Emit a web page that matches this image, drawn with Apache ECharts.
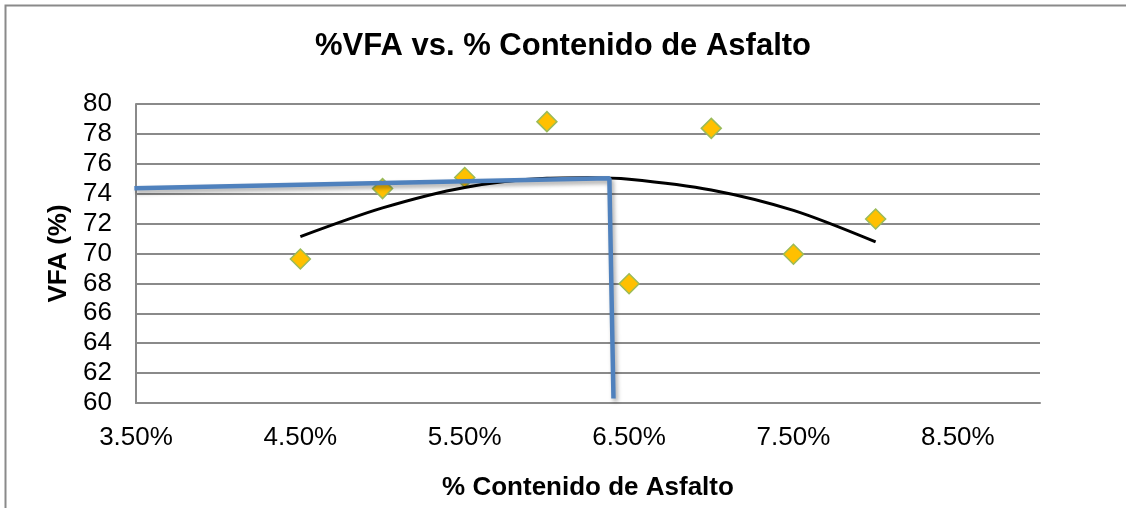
<!DOCTYPE html>
<html>
<head>
<meta charset="utf-8">
<title>%VFA vs. % Contenido de Asfalto</title>
<script src="https://cdn.jsdelivr.net/npm/echarts@6/dist/echarts.min.js"></script>
<style>
	html, body { margin: 0; padding: 0; background: #fff; }
	#vfaChart { width: 1126px; height: 508px; }
</style>
</head>
<body>
<div id="vfaChart"></div>
<script>

// datos
var asfaltoPct = [4.5, 5.0, 5.5, 6.0, 6.5, 7.0, 7.5, 8.0];
var vfaValores = [69.63, 74.34, 75.08, 78.82, 67.98, 78.37, 69.95, 72.31];
// linea de tendencia (polinomica)
var tendenciaX = [4.5, 5.0, 5.5, 6.0, 6.25, 6.5, 7.0, 7.5, 8.0];
var tendenciaVfa = [71.13, 73.05, 74.42, 75.03, 75.07, 74.97, 74.25, 72.88, 70.77];
// lineas azules dibujadas a mano (optimo)
var guiaX = [3.49, 6.38, 6.405];
var guiaY = [74.36, 75.03, 60.3];

var fuente = "'Liberation Sans', Arial, sans-serif";

function pares(xs, ys) {
	var out = [];
	for (var i = 0; i < xs.length; i++) {
		out.push([xs[i], ys[i]]);
	}
	return out;
}

function myChart() {
	var chart = echarts.init(document.getElementById('vfaChart'));

	var option = {
		animation: false,
		backgroundColor: '#fff',
		textStyle: { fontFamily: fuente },
		title: {
			text: '%VFA vs. % Contenido de Asfalto',
			left: 'center',
			top: 26,
			textStyle: { fontSize: 31, fontWeight: 'bold', color: '#000', fontFamily: fuente }
		},
		// borde del area del grafico (solo se ve arriba y a la izquierda)
		graphic: [{
			type: 'rect',
			shape: { x: 5.5, y: 5.5, width: 1300, height: 700 },
			style: { fill: 'none', stroke: '#8a8a8a', lineWidth: 2 },
			silent: true
		}],
		grid: { left: 136, right: 86, top: 104, bottom: 105 },
		xAxis: {
			type: 'value',
			min: 3.5,
			max: 9.0,
			interval: 1,
			name: '% Contenido de Asfalto',
			nameLocation: 'middle',
			nameGap: 72,
			nameTextStyle: { fontSize: 26, fontWeight: 'bold', color: '#000', fontFamily: fuente },
			axisLine: { show: true, lineStyle: { color: '#8a8a8a', width: 2 } },
			axisTick: { show: false },
			splitLine: { show: false },
			axisLabel: {
				margin: 22,
				fontSize: 26,
				color: '#000',
				fontFamily: fuente,
				showMaxLabel: false,
				formatter: function(v) { return v.toFixed(2) + '%'; }
			}
		},
		yAxis: {
			type: 'value',
			min: 60,
			max: 80,
			interval: 2,
			name: 'VFA (%)',
			nameLocation: 'middle',
			nameGap: 62,
			nameTextStyle: { fontSize: 26, fontWeight: 'bold', color: '#000', fontFamily: fuente },
			axisLine: { show: true, lineStyle: { color: '#8a8a8a', width: 2 } },
			axisTick: { show: false },
			splitLine: { show: true, lineStyle: { color: '#8a8a8a', width: 2 } },
			axisLabel: { margin: 24, fontSize: 26, color: '#000', fontFamily: fuente }
		},
		series: [
			{
				name: 'VFA',
				type: 'scatter',
				symbol: 'diamond',
				symbolSize: [20, 20],
				itemStyle: { color: '#FFC000', borderColor: '#9BBB59', borderWidth: 1.5, opacity: 1 },
				data: pares(asfaltoPct, vfaValores),
				z: 2
			},
			{
				name: 'Tendencia',
				type: 'line',
				smooth: 0.3,
				showSymbol: false,
				lineStyle: { color: '#000', width: 3 },
				data: pares(tendenciaX, tendenciaVfa),
				z: 3
			},
			{
				name: 'Optimo',
				type: 'line',
				showSymbol: false,
				clip: false,
				lineStyle: {
					color: '#4F81BD',
					width: 4.5,
					shadowColor: 'rgba(0,0,0,0.35)',
					shadowBlur: 4,
					shadowOffsetX: 2,
					shadowOffsetY: 3
				},
				data: pares(guiaX, guiaY),
				z: 4
			}
		]
	};

	chart.setOption(option);
}

myChart();
</script>
</body>
</html>
